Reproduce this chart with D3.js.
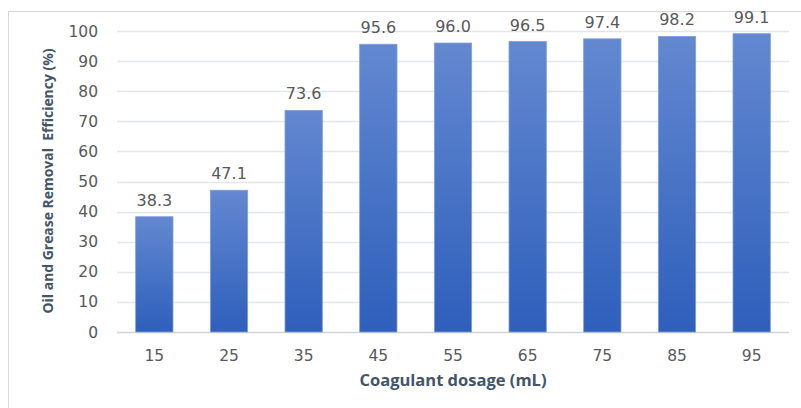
<!DOCTYPE html>
<html>
<head>
<meta charset="utf-8">
<script src="https://cdn.jsdelivr.net/npm/d3@7"></script>
<style>
  body { margin: 0; background: #fff; }
  svg { display: block; }
</style>
</head>
<body>
<div id="chart"></div>
<script>
const dosages = ["15", "25", "35", "45", "55", "65", "75", "85", "95"];
const efficiency = [38.3, 47.1, 73.6, 95.6, 96.0, 96.5, 97.4, 98.2, 99.1];
const yTicks = [0, 10, 20, 30, 40, 50, 60, 70, 80, 90, 100];

let width = 801,
  height = 408;

let svg = d3.select("#chart")
  .append("svg")
  .attr("width", width)
  .attr("height", height);

// outer chart frame
svg.append("rect")
  .attr("x", 8.5)
  .attr("y", 11.5)
  .attr("width", 800)
  .attr("height", 420)
  .attr("fill", "none")
  .attr("stroke", "#d9d9d9");

let grad = svg.append("defs").append("linearGradient")
  .attr("id", "barGrad")
  .attr("x1", 0).attr("y1", 0).attr("x2", 0).attr("y2", 1);
grad.append("stop").attr("offset", "0%").attr("stop-color", "#6388d0");
grad.append("stop").attr("offset", "100%").attr("stop-color", "#2e5fbb");

let x = d3.scaleBand()
  .domain(dosages)
  .range([117, 789])
  .paddingInner(0.5)
  .paddingOuter(0.25);

let y = d3.scaleLinear()
  .domain([0, 100])
  .range([332, 31]);

// gridlines
svg.append("g")
  .selectAll("line")
  .data(yTicks)
  .join("line")
  .attr("x1", 117)
  .attr("x2", 789)
  .attr("y1", d => Math.round(y(d)) + 0.5)
  .attr("y2", d => Math.round(y(d)) + 0.5)
  .attr("stroke", d => d === 0 ? "#d0d4dc" : "#e3e6ec")
  .attr("stroke-width", 1.3);

// y tick labels
svg.append("g")
  .selectAll("text")
  .data(yTicks)
  .join("text")
  .attr("x", 98)
  .attr("y", d => y(d))
  .attr("dy", "0.36em")
  .attr("text-anchor", "end")
  .attr("font-family", "DejaVu Sans, sans-serif")
  .attr("font-size", 15.5)
  .attr("fill", "#595959")
  .text(d => d);

let bars = dosages.map((d, i) => ({ dose: d, value: efficiency[i] }));

svg.append("g")
  .selectAll("rect")
  .data(bars)
  .join("rect")
  .attr("x", d => x(d.dose))
  .attr("y", d => y(d.value))
  .attr("width", x.bandwidth())
  .attr("height", d => y(0) - y(d.value))
  .attr("fill", "url(#barGrad)")
  .attr("stroke", "#7f9fdc")
  .attr("stroke-width", 0.8);

// value labels
svg.append("g")
  .selectAll("text")
  .data(bars)
  .join("text")
  .attr("x", d => x(d.dose) + x.bandwidth() / 2)
  .attr("y", d => y(d.value) - 11)
  .attr("text-anchor", "middle")
  .attr("font-family", "DejaVu Sans, sans-serif")
  .attr("font-size", 16)
  .attr("fill", "#595959")
  .text(d => d.value.toFixed(1));

// x tick labels
svg.append("g")
  .selectAll("text")
  .data(dosages)
  .join("text")
  .attr("x", d => x(d) + x.bandwidth() / 2)
  .attr("y", 361)
  .attr("text-anchor", "middle")
  .attr("font-family", "DejaVu Sans, sans-serif")
  .attr("font-size", 15.5)
  .attr("fill", "#595959")
  .text(d => d);

// axis titles
svg.append("text")
  .attr("x", 453)
  .attr("y", 386)
  .attr("text-anchor", "middle")
  .attr("font-family", "Open Sans, sans-serif")
  .attr("font-weight", "bold")
  .attr("font-size", 16.5)
  .attr("fill", "#44546a")
  .text("Coagulant dosage (mL)");

svg.append("text")
  .attr("transform", "translate(53,181) rotate(-90)")
  .attr("text-anchor", "middle")
  .attr("font-family", "Open Sans, sans-serif")
  .attr("font-weight", "bold")
  .attr("font-size", 14)
  .attr("fill", "#44546a")
  .attr("xml:space", "preserve")
  .attr("textLength", 265)
  .attr("lengthAdjust", "spacingAndGlyphs")
  .text("Oil and Grease Removal  Efficiency (%)");
</script>
</body>
</html>
